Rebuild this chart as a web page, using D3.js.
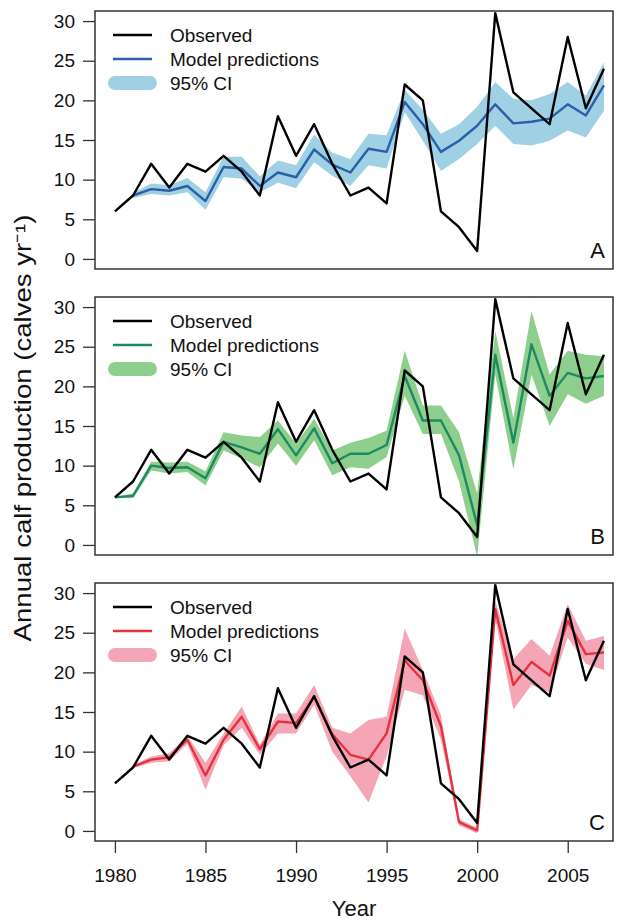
<!DOCTYPE html>
<html>
<head>
<meta charset="utf-8">
<script src="https://cdn.jsdelivr.net/npm/d3@7/dist/d3.min.js"></script>
<style>
  html, body { margin: 0; padding: 0; background: #fff; }
  svg { display: block; font-family: 'Liberation Sans', Arial, Helvetica, sans-serif; }
</style>
</head>
<body>
<svg id="chart" width="620" height="922"></svg>
<script>
// ===================================
// Data
// ===================================
const years = d3.range(1980, 2008);
const observed = [6, 8, 12, 9, 12, 11, 13, 11, 8, 18, 13, 17, 12, 8, 9, 7, 22, 20, 6, 4, 1, 31, 21, 19, 17, 28, 19, 24];

const predA = [null, 8.0, 8.8, 8.6, 9.2, 7.3, 11.6, 11.4, 9.2, 10.9, 10.3, 13.8, 11.9, 10.9, 13.9, 13.5, 19.8, 17.0, 13.5, 14.9, 16.8, 19.5, 17.1, 17.3, 17.7, 19.5, 18.1, 21.9];
const loA = [null, 7.7, 8.2, 8.0, 8.4, 6.2, 10.3, 10.1, 8.4, 9.6, 8.9, 12.2, 10.5, 9.2, 11.8, 11.4, 18.5, 14.9, 11.1, 12.6, 14.5, 16.8, 14.5, 14.3, 14.9, 16.2, 15.3, 18.7];
const hiA = [null, 8.3, 9.5, 9.3, 10.2, 8.4, 12.9, 12.9, 10.4, 12.4, 11.8, 15.7, 13.4, 12.6, 15.8, 15.6, 21.3, 18.8, 15.8, 17.0, 19.2, 22.3, 20.2, 20.0, 20.8, 22.3, 20.6, 24.8];

const predB = [6, 6.2, 10.0, 9.7, 9.8, 8.4, 13.0, 12.3, 11.5, 14.6, 11.3, 14.7, 10.3, 11.5, 11.5, 12.6, 21.3, 15.7, 15.7, 11.3, 2.5, 24.0, 12.9, 25.3, 18.8, 21.7, 21.0, 21.3];
const loB = [6, 5.9, 9.4, 9.0, 9.2, 7.5, 11.9, 10.9, 9.8, 12.8, 10.0, 13.2, 8.8, 9.8, 9.6, 11.1, 18.8, 14.0, 14.0, 8.0, -1.5, 21.5, 9.5, 21.5, 15.0, 19.0, 17.8, 18.8];
const hiB = [6, 6.5, 10.5, 10.4, 10.5, 9.3, 14.2, 13.8, 13.6, 15.7, 12.8, 15.9, 11.9, 12.9, 13.5, 14.4, 24.5, 17.6, 17.6, 14.2, 6.5, 27.0, 16.0, 29.5, 21.5, 24.5, 24.0, 23.8];

const predC = [null, 8.1, 9.0, 9.3, 11.5, 7.0, 11.5, 14.4, 10.3, 13.8, 13.6, 16.9, 12.2, 9.6, 9.0, 12.3, 21.5, 19.0, 13.2, 1.1, 0.05, 28.0, 18.4, 21.3, 19.6, 26.5, 22.3, 22.5];
const loC = [null, 7.9, 8.6, 8.8, 11.0, 5.2, 10.8, 13.0, 9.6, 12.3, 12.3, 15.9, 10.0, 6.9, 3.6, 9.4, 17.8, 17.1, 11.5, 0.7, -0.3, 26.8, 15.3, 18.4, 17.5, 24.4, 21.1, 20.3];
const hiC = [null, 8.3, 9.4, 9.8, 12.0, 8.6, 12.3, 15.7, 10.9, 14.8, 14.8, 18.4, 13.0, 12.3, 14.0, 14.4, 25.5, 20.3, 14.6, 1.5, 0.4, 29.0, 21.7, 24.2, 22.1, 28.6, 24.0, 24.6];

const yTicks = [0, 5, 10, 15, 20, 25, 30];
const xTicks = [1980, 1985, 1990, 1995, 2000, 2005];
const legendLabels = ['Observed', 'Model predictions', '95% CI'];

const panels = [
  { id: 'A', pred: predA, lo: loA, hi: hiA, line: '#2a5fa8', band: '#9fd0e4' },
  { id: 'B', pred: predB, lo: loB, hi: hiB, line: '#1d8a62', band: '#8ecf8e' },
  { id: 'C', pred: predC, lo: loC, hi: hiC, line: '#e6323e', band: '#f4a5b6' },
];

// ===================================
// Layout
// ===================================
const plotLeft = 95;
const plotRight = 613;
const panelHeight = 258;
const panelTops = [11, 297, 583];

const svg = d3.select('#chart');

const x = d3.scaleLinear().domain([1978.9, 2007.5]).range([plotLeft, plotRight]);

panels.forEach((p, i) => {
  const top = panelTops[i];
  const bottom = top + panelHeight;
  const y = d3.scaleLinear().domain([-1.27, 31.27]).range([bottom, top]);

  const g = svg.append('g').attr('class', 'panel');

  g.append('clipPath')
    .attr('id', `clip-${p.id}`)
    .append('rect')
    .attr('x', plotLeft)
    .attr('y', top)
    .attr('width', plotRight - plotLeft)
    .attr('height', panelHeight);

  const rows = years.map((yr, k) => ({
    year: yr,
    obs: observed[k],
    pred: p.pred[k],
    lo: p.lo[k],
    hi: p.hi[k],
  }));

  const plot = g.append('g').attr('clip-path', `url(#clip-${p.id})`);

  // CI band
  const area = d3
    .area()
    .defined((d) => d.lo != null)
    .x((d) => x(d.year))
    .y0((d) => y(d.lo))
    .y1((d) => y(d.hi));

  plot.append('path').datum(rows).attr('d', area).attr('fill', p.band);

  // Model predictions
  const predLine = d3
    .line()
    .defined((d) => d.pred != null)
    .x((d) => x(d.year))
    .y((d) => y(d.pred));

  plot
    .append('path')
    .datum(rows)
    .attr('d', predLine)
    .attr('fill', 'none')
    .attr('stroke', p.line)
    .attr('stroke-width', 2.4)
    .attr('stroke-linejoin', 'round');

  // Observed
  const obsLine = d3
    .line()
    .x((d) => x(d.year))
    .y((d) => y(d.obs));

  plot
    .append('path')
    .datum(rows)
    .attr('d', obsLine)
    .attr('fill', 'none')
    .attr('stroke', '#000')
    .attr('stroke-width', 2.4)
    .attr('stroke-linejoin', 'round');

  // Frame
  g.append('rect')
    .attr('x', plotLeft)
    .attr('y', top)
    .attr('width', plotRight - plotLeft)
    .attr('height', panelHeight)
    .attr('fill', 'none')
    .attr('stroke', '#333')
    .attr('stroke-width', 1.5);

  // Y axis
  const yAxis = d3.axisLeft(y).tickValues(yTicks).tickSize(12).tickPadding(8);
  const ya = g.append('g').attr('transform', `translate(${plotLeft},0)`).call(yAxis);
  ya.select('.domain').remove();
  ya.selectAll('line').attr('stroke', '#333').attr('stroke-width', 1.3);
  ya.selectAll('text')
    .attr('font-size', 19)
    .attr('font-family', 'Liberation Sans, Arial, sans-serif')
    .attr('fill', '#111');

  // Legend
  const lg = g.append('g').attr('transform', `translate(0,${top + 24})`);
  const swatch = [
    { color: '#000', width: 2.4 },
    { color: p.line, width: 2.4 },
    { color: p.band, width: 14 },
  ];
  legendLabels.forEach((label, k) => {
    const row = lg.append('g').attr('transform', `translate(0,${k * 24})`);
    row.append('line')
      .attr('x1', k === 2 ? 115 : 113)
      .attr('x2', k === 2 ? 150 : 152)
      .attr('stroke', swatch[k].color)
      .attr('stroke-width', swatch[k].width)
      .attr('stroke-linecap', k === 2 ? 'round' : 'butt');
    row.append('text')
      .attr('x', 170)
      .attr('dy', '0.35em')
      .attr('font-size', 19)
      .attr('fill', '#111')
      .text(label);
  });

  // Panel letter
  g.append('text')
    .attr('x', 605)
    .attr('y', bottom - 11)
    .attr('text-anchor', 'end')
    .attr('font-size', 22)
    .attr('fill', '#111')
    .text(p.id);

  // X axis on bottom panel only
  if (i === panels.length - 1) {
    const xAxis = d3.axisBottom(x).tickValues(xTicks).tickFormat(d3.format('d')).tickSize(12).tickPadding(16);
    const xa = g.append('g').attr('transform', `translate(0,${bottom})`).call(xAxis);
    xa.select('.domain').remove();
    xa.selectAll('line').attr('stroke', '#333').attr('stroke-width', 1.3);
    xa.selectAll('text')
      .attr('font-size', 19)
      .attr('font-family', 'Liberation Sans, Arial, sans-serif')
      .attr('fill', '#111');
  }
});

// ===================================
// Axis titles
// ===================================
svg.append('text')
  .attr('x', (plotLeft + plotRight) / 2)
  .attr('y', 916)
  .attr('text-anchor', 'middle')
  .attr('font-size', 22)
  .attr('fill', '#111')
  .text('Year');

// the original's y title is drawn stretched along its length
svg.append('text')
  .attr('transform', `translate(31,${(panelTops[0] + panelTops[2] + panelHeight) / 2 + 2}) rotate(-90) scale(1.2,1)`)
  .attr('text-anchor', 'middle')
  .attr('font-size', 23)
  .attr('fill', '#111')
  .text('Annual calf production (calves yr⁻¹)');
</script>
</body>
</html>
